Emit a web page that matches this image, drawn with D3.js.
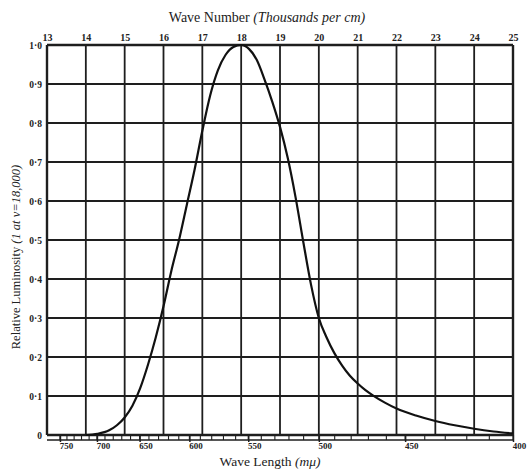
<!DOCTYPE html>
<html><head><meta charset="utf-8">
<script src="https://cdn.jsdelivr.net/npm/d3@7"></script>
<style>
body{margin:0;background:#fff;}
svg{display:block;}
text{font-family:"Liberation Serif","DejaVu Serif",serif;fill:#222;}
</style></head>
<body><svg id="c" width="530" height="470"></svg>
<script>
// Data
const waveNumbers = [14.0,14.3,14.6,14.8,15.0,15.2,15.4,15.6,15.8,16.0,16.2,16.4,16.6,16.8,17.0,17.2,17.4,17.6,17.8,18.0,18.2,18.4,18.6,18.8,19.0,19.2,19.4,19.6,19.8,20.0,20.2,20.4,20.6,20.8,21.0,21.2,21.4,21.7,22.0,22.5,23.0,23.5,24.0,24.5,25.0];
const luminosity  = [0.0,0.003,0.012,0.025,0.045,0.075,0.12,0.18,0.25,0.33,0.42,0.50,0.59,0.68,0.78,0.87,0.935,0.975,0.995,1.0,0.99,0.962,0.912,0.855,0.79,0.71,0.61,0.495,0.385,0.30,0.25,0.21,0.178,0.152,0.132,0.115,0.101,0.083,0.068,0.050,0.036,0.025,0.016,0.009,0.004];
const topTicks = [13,14,15,16,17,18,19,20,21,22,23,24,25];
const yTicks = [0,0.1,0.2,0.3,0.4,0.5,0.6,0.7,0.8,0.9,1.0];
const yTickLabels = ["0","0·1","0·2","0·3","0·4","0·5","0·6","0·7","0·8","0·9","1·0"];
const wlMajor = [750,700,650,600,550,500,450,400];
const wlMinor = d3.range(400,751,10);

const svg = d3.select("#c");
const L=47,R=513,T=45,B=435;
const x = d3.scaleLinear().domain([13,25]).range([L,R]);
const y = d3.scaleLinear().domain([0,1]).range([B,T]);
const ink="#1e1e1e";

// grid
const g = svg.append("g");
g.selectAll(".vg").data(topTicks).join("line")
  .attr("x1",d=>x(d)).attr("x2",d=>x(d)).attr("y1",T).attr("y2",B)
  .attr("stroke",ink).attr("stroke-width",d=>(d===13||d===25)?2.4:1.8);
g.selectAll(".hg").data(yTicks).join("line")
  .attr("x1",L).attr("x2",R).attr("y1",d=>y(d)).attr("y2",d=>y(d))
  .attr("stroke",ink).attr("stroke-width",d=>(d===0||d===1)?2.4:1.8);

// top axis labels
const topAxis = d3.axisTop(x).tickValues(topTicks).tickSize(0).tickPadding(4).tickFormat(d3.format("d"));
const ta = svg.append("g").attr("transform",`translate(0,${T})`).call(topAxis);
ta.select(".domain").remove();
ta.selectAll("text").style("font-size","10px").style("font-weight","bold").attr("fill",ink);

// left labels
const leftAxis = d3.axisLeft(y).tickValues(yTicks).tickSize(0).tickPadding(5).tickFormat((d,i)=>yTickLabels[i]);
const la = svg.append("g").attr("transform",`translate(${L},0)`).call(leftAxis);
la.select(".domain").remove();
la.selectAll("text").style("font-size","9.5px").style("font-weight","bold").attr("fill",ink);

// bottom wavelength strip
const sb = svg.append("g");
sb.append("line").attr("x1",L).attr("x2",R).attr("y1",B+5).attr("y2",B+5).attr("stroke",ink).attr("stroke-width",1.4);
sb.selectAll(".mn").data(wlMinor).join("line")
  .attr("x1",d=>x(1e4/d)).attr("x2",d=>x(1e4/d)).attr("y1",B).attr("y2",B+5)
  .attr("stroke",ink).attr("stroke-width",1.1);
const botAxis = d3.axisBottom(x).tickValues(wlMajor.map(w=>1e4/w)).tickSize(7).tickPadding(1)
  .tickFormat(d=>Math.round(1e4/d));
const ba = svg.append("g").attr("transform",`translate(0,${B})`).call(botAxis);
ba.select(".domain").remove();
ba.selectAll("line").attr("stroke",ink).attr("stroke-width",1.5);
ba.selectAll("text").attr("dx",6).style("font-size","9px").style("font-weight","bold").attr("fill",ink);

// curve
const pts = waveNumbers.map((k,i)=>[k,luminosity[i]]);
svg.append("path").datum(pts)
  .attr("d",d3.line().x(d=>x(d[0])).y(d=>y(d[1])).curve(d3.curveMonotoneX))
  .attr("fill","none").attr("stroke","#111").attr("stroke-width",2.2);

// titles
const t1 = svg.append("text").attr("x",267).attr("y",22).attr("text-anchor","middle").style("font-size","14px");
t1.append("tspan").text("Wave Number ");
t1.append("tspan").style("font-style","italic").text("(Thousands per cm)");
const t2 = svg.append("text").attr("x",270).attr("y",466).attr("text-anchor","middle").style("font-size","13.5px");
t2.append("tspan").text("Wave Length ");
t2.append("tspan").style("font-style","italic").text("(mμ)");
const t3 = svg.append("text").attr("transform","translate(20,257) rotate(-90)").attr("text-anchor","middle").style("font-size","12.5px");
t3.append("tspan").text("Relative Luminosity ");
t3.append("tspan").style("font-style","italic").text("(1 at ν=18,000)");
</script></body></html>
